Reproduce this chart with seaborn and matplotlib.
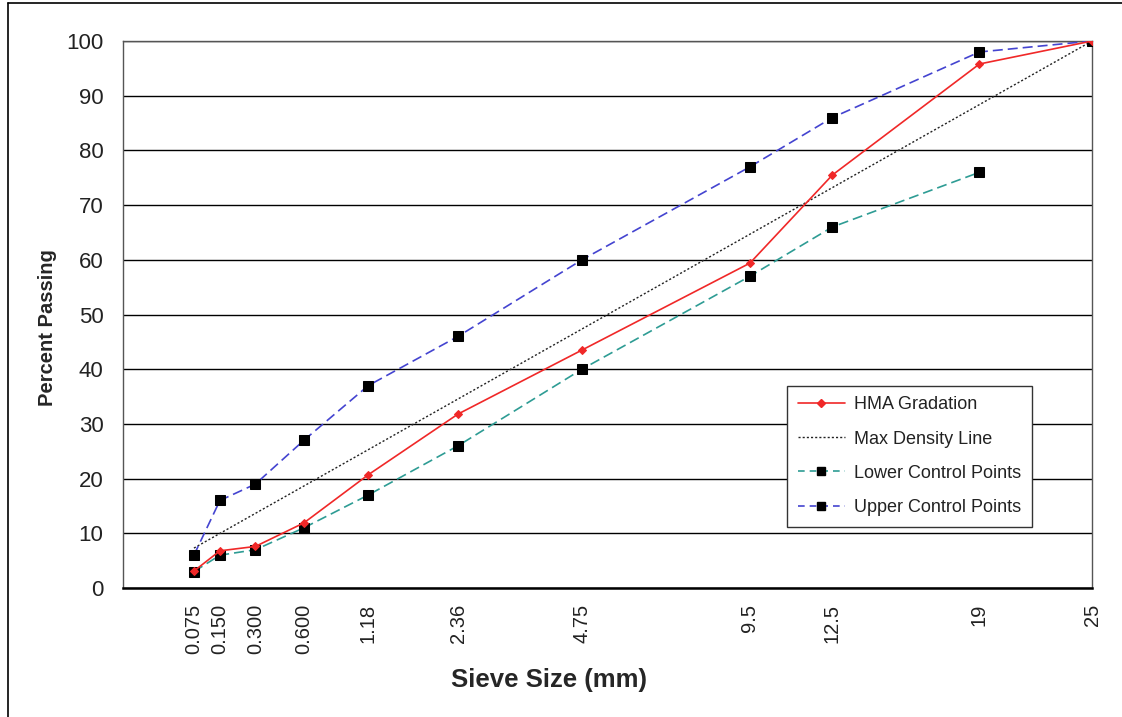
import numpy as np
import pandas as pd
import matplotlib
matplotlib.use("Agg")
import matplotlib.pyplot as plt
from matplotlib.lines import Line2D
import seaborn as sns

# Sieve sizes (mm) and percent passing for each series
sieves = [0.075, 0.150, 0.300, 0.600, 1.18, 2.36, 4.75, 9.5, 12.5, 19, 25]
sieve_labels = ["0.075", "0.150", "0.300", "0.600", "1.18", "2.36", "4.75",
                "9.5", "12.5", "19", "25"]
hma = [3.1, 6.8, 7.6, 11.9, 20.7, 31.8, 43.5, 59.4, 75.5, 95.8, 100]
lower_sieves = [0.075, 0.150, 0.300, 0.600, 1.18, 2.36, 4.75, 9.5, 12.5, 19]
lower = [3, 6, 7, 11, 17, 26, 40, 57, 66, 76]
upper = [6, 16, 19, 27, 37, 46, 60, 77, 86, 98, 100]
maxden_sieves = [0.075, 25]
maxden = [7.3, 100]

sns.set_theme(style="white")
plt.rcParams["font.family"] = ["Liberation Sans", "DejaVu Sans"]

fig = plt.figure(figsize=(11.22, 7.17), dpi=100)
ax = fig.add_axes([0.1096, 0.1799, 0.8637, 0.7629])

# 0.45 power gradation scale
ax.set_xscale("function", functions=(lambda v: np.power(np.clip(v, 0, None), 0.45),
                                     lambda v: np.power(np.clip(v, 0, None), 1 / 0.45)))

df_hma = pd.DataFrame({"sieve": sieves, "pct": hma})
df_low = pd.DataFrame({"sieve": lower_sieves, "pct": lower})
df_up = pd.DataFrame({"sieve": sieves, "pct": upper})
df_md = pd.DataFrame({"sieve": maxden_sieves, "pct": maxden})

red = "#f02828"
teal = "#2e9c94"
blue = "#4444d0"

sns.lineplot(data=df_up, x="sieve", y="pct", ax=ax, color=blue, lw=1.2,
             linestyle=(0, (6, 3)), marker="s", markersize=7,
             markerfacecolor="black", markeredgecolor="black", sort=False, zorder=4)
sns.lineplot(data=df_low, x="sieve", y="pct", ax=ax, color=teal, lw=1.2,
             linestyle=(0, (6, 3)), marker="s", markersize=7,
             markerfacecolor="black", markeredgecolor="black", sort=False, zorder=4)
sns.lineplot(data=df_md, x="sieve", y="pct", ax=ax, color="#222222", lw=1.0,
             linestyle=(0, (1.5, 1.5)), sort=False, zorder=3)
sns.lineplot(data=df_hma, x="sieve", y="pct", ax=ax, color=red, lw=1.2,
             marker="D", markersize=4.5, markerfacecolor=red, markeredgecolor=red,
             sort=False, zorder=5)

ax.set_xlim(0, 25)
ax.set_ylim(0, 100)
ax.set_xticks(sieves)
ax.set_xticklabels(sieve_labels, rotation=90, fontsize=14.5, color="#222222")
ax.set_yticks(np.arange(0, 101, 10))
ax.set_yticklabels([str(v) for v in range(0, 101, 10)], fontsize=16, color="#222222")
ax.xaxis.set_minor_locator(matplotlib.ticker.NullLocator())

ax.tick_params(axis="x", direction="inout", length=11, width=1, color="black", pad=6)
ax.tick_params(axis="y", direction="out", length=6, width=1, color="black", pad=8)

ax.grid(axis="y", color="black", lw=1.0)
ax.grid(axis="x", visible=False)
ax.set_axisbelow(True)

for side in ["left", "right", "top"]:
    ax.spines[side].set_color("#555555")
    ax.spines[side].set_linewidth(1.0)
ax.spines["bottom"].set_color("black")
ax.spines["bottom"].set_linewidth(1.8)

ax.set_xlabel("Sieve Size (mm)", fontsize=18.5, fontweight="bold")
ax.xaxis.set_label_coords(0.44, -0.147)
ax.set_ylabel("Percent Passing", fontsize=14.5, fontweight="bold")
ax.yaxis.set_label_coords(-0.068, 0.477)

handles = [
    Line2D([], [], color=red, lw=1.2, marker="D", markersize=4.5, markerfacecolor=red),
    Line2D([], [], color="#222222", lw=1.0, linestyle=(0, (1.5, 1.5))),
    Line2D([], [], color=teal, lw=1.2, linestyle=(0, (4, 3)), marker="s", markersize=6,
           markerfacecolor="black", markeredgecolor="black"),
    Line2D([], [], color=blue, lw=1.2, linestyle=(0, (4, 3)), marker="s", markersize=6,
           markerfacecolor="black", markeredgecolor="black"),
]
labels = ["HMA Gradation", "Max Density Line", "Lower Control Points", "Upper Control Points"]
leg = ax.legend(handles, labels, loc="upper left", bbox_to_anchor=(0.685, 0.37),
                fontsize=13, frameon=True, fancybox=False, framealpha=1,
                edgecolor="#333333", labelspacing=0.95, handlelength=2.6,
                handletextpad=0.5, borderpad=0.6, borderaxespad=0)
leg.get_frame().set_linewidth(1.0)
for t in leg.get_texts():
    t.set_color("#222222")

# Outer frame lines of the chart area
fig.add_artist(Line2D([8 / 1122, 8 / 1122], [0, 1 - 3 / 717], color="black", lw=1.2,
                      transform=fig.transFigure))
fig.add_artist(Line2D([8 / 1122, 1], [1 - 3 / 717, 1 - 3 / 717], color="black", lw=1.2,
                      transform=fig.transFigure))

fig.savefig("out.png", dpi=100)
